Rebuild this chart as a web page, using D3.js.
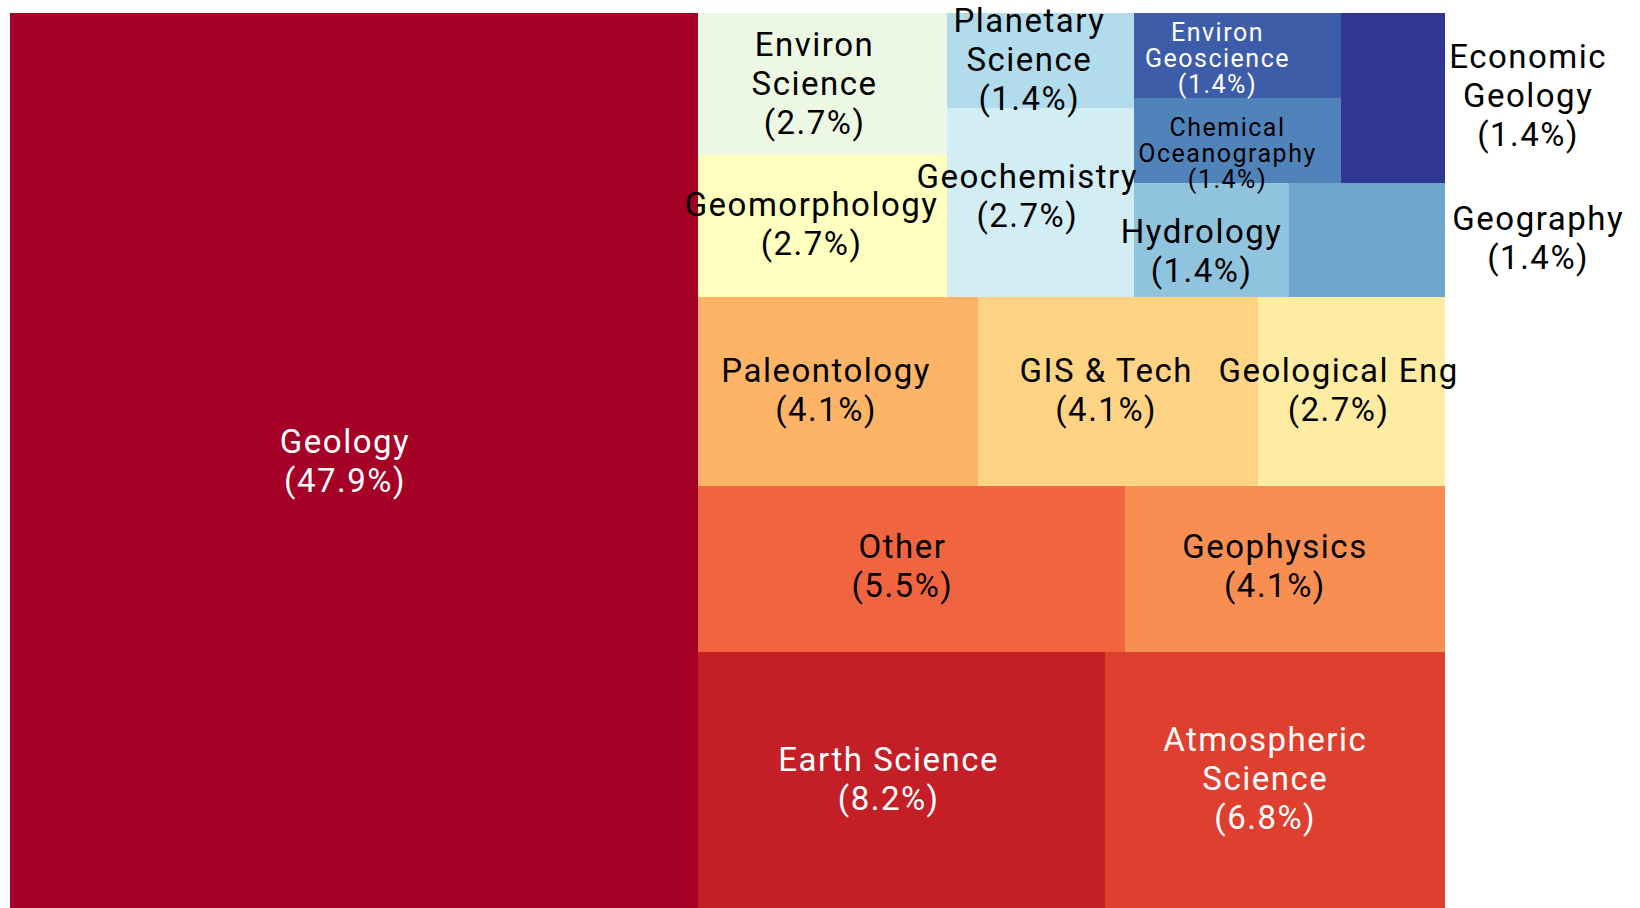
<!DOCTYPE html>
<html>
<head>
<meta charset="utf-8">
<script src="https://cdn.jsdelivr.net/npm/d3@7"></script>
<style>
  body { margin: 0; background: #fff; }
  svg text { font-family: Roboto, "Noto Sans", sans-serif; }
</style>
</head>
<body>
<div id="chart"></div>
<script>
// categories in layout order, counts out of 73 responses
var fields = ["Geology", "Earth Science", "Atmospheric Science", "Other", "Geophysics",
  "Paleontology", "GIS & Tech", "Geological Eng", "Geomorphology", "Environ Science",
  "Geochemistry", "Planetary Science", "Hydrology", "Geography",
  "Chemical Oceanography", "Environ Geoscience", "Economic Geology"];
var counts = [35, 6, 5, 4, 3, 3, 3, 2, 2, 2, 2, 1, 1, 1, 1, 1, 1];

// how the names wrap in the tiles
var wrapped = {
  "Atmospheric Science": ["Atmospheric", "Science"],
  "Environ Science": ["Environ", "Science"],
  "Planetary Science": ["Planetary", "Science"],
  "Chemical Oceanography": ["Chemical", "Oceanography"],
  "Environ Geoscience": ["Environ", "Geoscience"],
  "Economic Geology": ["Economic", "Geology"]
};

var whiteText = ["Geology", "Earth Science", "Atmospheric Science", "Environ Geoscience"];
var smallText = ["Chemical Oceanography", "Environ Geoscience"];

// label offsets from tile centre (px)
var nudge = {
  "Geology": [-9, -2], "Earth Science": [-13, -3], "Atmospheric Science": [-10, -4],
  "Other": [-9, -3], "Geophysics": [-10, -3], "Paleontology": [-12, -2],
  "GIS & Tech": [-12, -2], "Geological Eng": [-13, -2], "Environ Science": [-8, -1],
  "Geomorphology": [-11, -2], "Planetary Science": [-11, -1], "Geochemistry": [-13, -7],
  "Hydrology": [-10, 11], "Geography": [171, -2], "Chemical Oceanography": [-10, 12],
  "Environ Geoscience": [-20, 2], "Economic Geology": [135, -3]
};

var svgWidth = 1640;
var svgHeight = 908;

var svg = d3.select("#chart")
  .append("svg")
  .attr("width", svgWidth)
  .attr("height", svgHeight);

// layout is done in a unit square, then stretched to the panel
var x = d3.scaleLinear().domain([0, 1]).range([10, 1445]);
var y = d3.scaleLinear().domain([0, 1]).range([912, 13]);

var total = d3.sum(counts);
var palette = d3.quantize(d3.piecewise(d3.interpolateRgb, d3.schemeRdYlBu[11]), fields.length);

var root = d3.hierarchy({children: fields.map(function(f, i) {
    return {name: f, count: counts[i], idx: i};
  })})
  .sum(function(d) { return d.count || 0; });

d3.treemap()
  .tile(d3.treemapSquarify.ratio(1))
  .size([1, 1])(root);

var leaves = root.leaves();

svg.append("g").selectAll("rect")
  .data(leaves)
  .enter()
  .append("rect")
  .attr("x", d => x(d.x0))
  .attr("y", d => y(d.y1))
  .attr("width", d => x(d.x1) - x(d.x0))
  .attr("height", d => y(d.y0) - y(d.y1))
  .attr("shape-rendering", "crispEdges")
  .attr("fill", d => palette[d.data.idx]);

var labels = svg.append("g").selectAll("text")
  .data(leaves)
  .enter()
  .append("text")
  .attr("text-anchor", "middle")
  .attr("fill", d => whiteText.indexOf(d.data.name) >= 0 ? "#ffffff" : "#000000")
  .attr("font-size", d => smallText.indexOf(d.data.name) >= 0 ? "25px" : "33px")
  .attr("letter-spacing", d => smallText.indexOf(d.data.name) >= 0 ? "1.5px" : "1.5px");

labels.each(function(d) {
  var name = d.data.name;
  var lines = (wrapped[name] || [name]).concat(["(" + d3.format(".1f")(d.value / total * 100) + "%)"]);
  var lh = smallText.indexOf(name) >= 0 ? 26 : 39;
  var off = nudge[name] || [0, 0];
  var cx = (x(d.x0) + x(d.x1)) / 2 + off[0];
  var cy = (y(d.y0) + y(d.y1)) / 2 + off[1];
  d3.select(this).selectAll("tspan")
    .data(lines)
    .enter()
    .append("tspan")
    .attr("x", cx)
    .attr("y", (t, i) => cy + (i - (lines.length - 1) / 2) * lh)
    .attr("dy", "0.36em")
    .text(t => t);
});
</script>
</body>
</html>
